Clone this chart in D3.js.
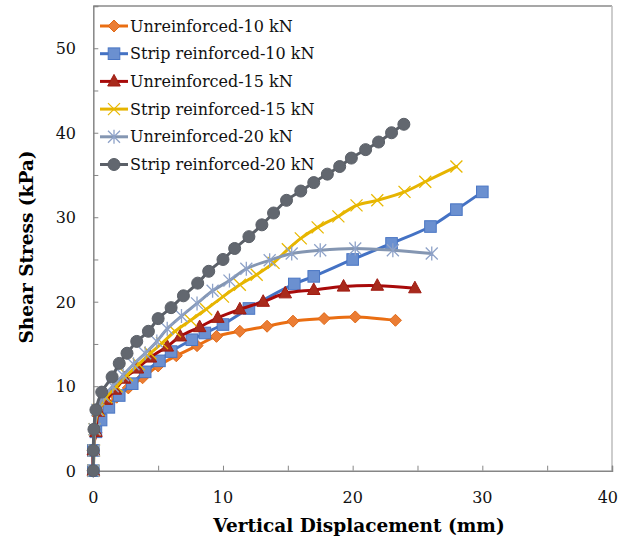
<!DOCTYPE html>
<html>
<head>
<meta charset="utf-8">
<script src="https://cdn.jsdelivr.net/npm/d3@7"></script>
<style>
  html, body { margin: 0; padding: 0; background: #fff; }
  svg { display: block; }
  text { font-family: "DejaVu Serif", "Liberation Serif", serif; }
</style>
</head>
<body>
<svg id="chart" width="619" height="541"></svg>
<script>
// Shear stress (kPa) vs. vertical displacement (mm)
const unr10X = [0, 0, 0.2, 0.5, 1.1, 1.8, 2.7, 3.8, 5.0, 6.4, 8.0, 9.5, 11.3, 13.4, 15.4, 17.8, 20.2, 23.3];
const unr10Y = [0, 2.4, 4.5, 6.5, 7.8, 8.7, 9.8, 11.0, 12.4, 13.6, 14.8, 15.9, 16.5, 17.1, 17.7, 18.0, 18.2, 17.8];

const strip10X = [0, 0, 0.2, 0.6, 1.2, 2.0, 3.0, 4.0, 5.1, 6.0, 7.6, 8.6, 10.0, 12.0, 15.5, 17.0, 20.0, 23.0, 26.0, 28.0, 30.0];
const strip10Y = [0, 2.4, 4.6, 6.0, 7.5, 8.9, 10.3, 11.7, 13.0, 14.1, 15.5, 16.3, 17.3, 19.2, 22.1, 23.0, 25.0, 26.9, 28.9, 30.9, 33.0];

const unr15X = [0, 0, 0.2, 0.4, 1.0, 1.7, 2.4, 3.4, 4.4, 5.7, 6.7, 8.2, 9.6, 11.3, 13.1, 14.8, 17.0, 19.3, 21.9, 24.8];
const unr15Y = [0, 2.4, 4.6, 7.0, 8.4, 9.6, 10.9, 12.1, 13.4, 14.7, 15.9, 17.0, 18.1, 19.1, 20.0, 21.0, 21.4, 21.8, 21.9, 21.6];

const strip15X = [0, 0.05, 0.1, 0.4, 1.0, 1.8, 2.6, 3.5, 4.4, 5.3, 6.3, 7.5, 8.7, 10.0, 11.3, 12.6, 13.9, 15.0, 16.0, 17.3, 18.9, 20.3, 21.9, 24.0, 25.6, 28.0];
const strip15Y = [0, 2.4, 4.9, 7.2, 8.7, 10.0, 11.3, 12.6, 13.9, 15.1, 16.5, 17.8, 19.1, 20.6, 22.0, 23.2, 24.6, 26.2, 27.5, 28.8, 30.1, 31.4, 32.0, 33.0, 34.2, 36.0];

const unr20X = [0, 0.05, 0.1, 0.3, 0.8, 1.5, 2.3, 3.1, 4.0, 4.9, 5.7, 6.8, 8.0, 9.2, 10.5, 11.8, 13.6, 15.3, 17.5, 20.2, 23.1, 26.1];
const unr20Y = [0, 2.4, 4.9, 7.2, 8.8, 10.0, 11.3, 12.6, 13.9, 15.3, 16.8, 18.3, 19.8, 21.3, 22.5, 23.9, 24.9, 25.7, 26.1, 26.3, 26.1, 25.7];

const strip20X = [0, 0, 0.05, 0.2, 0.65, 1.45, 2.0, 2.6, 3.35, 4.25, 5.0, 6.0, 6.95, 8.05, 8.9, 10.0, 10.9, 12.0, 13.0, 13.9, 14.9, 16.0, 17.0, 18.05, 19.0, 19.9, 21.0, 22.0, 23.0, 23.95];
const strip20Y = [0, 2.4, 4.9, 7.2, 9.3, 11.1, 12.7, 13.9, 15.3, 16.5, 18.0, 19.3, 20.7, 22.2, 23.6, 25.0, 26.3, 27.7, 29.1, 30.5, 32.0, 33.1, 34.1, 35.1, 36.0, 37.0, 38.0, 38.9, 40.0, 41.0];

const seriesNames = [
  "Unreinforced-10 kN", "Strip reinforced-10 kN", "Unreinforced-15 kN",
  "Strip reinforced-15 kN", "Unreinforced-20 kN", "Strip reinforced-20 kN"
];
const seriesX = [unr10X, strip10X, unr15X, strip15X, unr20X, strip20X];
const seriesY = [unr10Y, strip10Y, unr15Y, strip15Y, unr20Y, strip20Y];

const xTicks = [0, 10, 20, 30, 40];
const yTicks = [0, 10, 20, 30, 40, 50];

// Per-series look: line colour, marker shape, marker fill/stroke
const styles = [
  { line: "#EA6E12", shape: "diamond",  fill: "#EB7D34", stroke: "#E06A18" },
  { line: "#4472C4", shape: "square",   fill: "#6B90D0", stroke: "#4A76C4" },
  { line: "#A80A0A", shape: "triangle", fill: "#A82A1C", stroke: "#A01A10" },
  { line: "#E6B400", shape: "x",        fill: "none",    stroke: "#E8B800" },
  { line: "#8496B2", shape: "asterisk", fill: "none",    stroke: "#8EA2C8" },
  { line: "#5B6068", shape: "circle",   fill: "#62676F", stroke: "#5B6068" }
];

const svg = d3.select("#chart");
const margin = { left: 93.3, right: 612, top: 6, bottom: 470.7 };

const x = d3.scaleLinear().domain([0, 40]).range([margin.left, margin.right]);
const y = d3.scaleLinear().domain([0, 55]).range([margin.bottom, margin.top]);

// Frame: top and right edges
svg.append("line").attr("x1", x(0)).attr("x2", x(40)).attr("y1", y(55)).attr("y2", y(55))
  .attr("stroke", "#8a8a8a").attr("stroke-width", 1.5);
svg.append("line").attr("x1", x(40)).attr("x2", x(40)).attr("y1", y(55)).attr("y2", y(0))
  .attr("stroke", "#bdbdbd").attr("stroke-width", 1.5);

// Axes with inward ticks every 5 units, labels every 10
const axisColor = "#868686";
const xAxis = svg.append("g").attr("transform", `translate(0,${y(0)})`)
  .call(d3.axisTop(x).tickValues(d3.range(0, 41, 5)).tickSize(5).tickFormat(""));
const yAxis = svg.append("g").attr("transform", `translate(${x(0)},0)`)
  .call(d3.axisRight(y).tickValues(d3.range(0, 56, 5)).tickSize(5).tickFormat(""));
[xAxis, yAxis].forEach(g => {
  g.select(".domain").attr("stroke", axisColor).attr("stroke-width", 1.5);
  g.selectAll(".tick line").attr("stroke", axisColor).attr("stroke-width", 1);
});

// Last x label sits against the right edge, so it is end-anchored there
svg.append("g").selectAll("text").data(xTicks).join("text")
  .attr("x", d => d === 40 ? 618 : x(d)).attr("y", 503)
  .attr("text-anchor", d => d === 40 ? "end" : "middle")
  .attr("font-size", 16).attr("fill", "#111")
  .text(d => d);
svg.append("g").selectAll("text").data(yTicks).join("text")
  .attr("x", 76).attr("y", d => y(d) + 6)
  .attr("text-anchor", "end").attr("font-size", 16).attr("fill", "#111")
  .text(d => d);

// Axis titles
svg.append("text").attr("x", 359).attr("y", 532)
  .attr("text-anchor", "middle").attr("font-size", 18.5).attr("font-weight", "bold")
  .text("Vertical Displacement (mm)");
svg.append("text").attr("transform", "translate(33,247) rotate(-90)")
  .attr("text-anchor", "middle").attr("font-size", 18.5).attr("font-weight", "bold")
  .text("Shear Stress (kPa)");

// Marker drawing
function drawMarker(g, shape, st) {
  if (shape === "diamond") {
    g.append("path").attr("d", "M0,-6L6,0L0,6L-6,0Z")
      .attr("fill", st.fill).attr("stroke", st.stroke).attr("stroke-width", 1);
  } else if (shape === "square") {
    g.append("rect").attr("x", -5.8).attr("y", -5.8).attr("width", 11.6).attr("height", 11.6)
      .attr("fill", st.fill).attr("stroke", st.stroke).attr("stroke-width", 1);
  } else if (shape === "triangle") {
    g.append("path").attr("d", "M0,-7L6.3,4.6L-6.3,4.6Z")
      .attr("fill", st.fill).attr("stroke", st.stroke).attr("stroke-width", 1);
  } else if (shape === "x") {
    g.append("path").attr("d", "M-6,-6L6,6M-6,6L6,-6")
      .attr("fill", "none").attr("stroke", st.stroke).attr("stroke-width", 1.3);
  } else if (shape === "asterisk") {
    g.append("path").attr("d", "M-6,-6L6,6M-6,6L6,-6M0,-7L0,7")
      .attr("fill", "none").attr("stroke", st.stroke).attr("stroke-width", 1.3);
  } else if (shape === "circle") {
    g.append("circle").attr("r", 6)
      .attr("fill", st.fill).attr("stroke", st.stroke).attr("stroke-width", 1);
  }
}

const line = d3.line().curve(d3.curveCatmullRom.alpha(0.5))
  .x(d => x(d[0])).y(d => y(d[1]));

const plot = svg.append("g");
seriesX.forEach((xs, i) => {
  const st = styles[i];
  const pts = xs.map((v, k) => [v, seriesY[i][k]]);
  const g = plot.append("g");
  g.append("path").datum(pts).attr("d", line)
    .attr("fill", "none").attr("stroke", st.line).attr("stroke-width", 3)
    .attr("stroke-linejoin", "round").attr("stroke-linecap", "round");
  g.selectAll("g.m").data(pts).join("g").attr("class", "m")
    .attr("transform", d => `translate(${x(d[0])},${y(d[1])})`)
    .each(function () { drawMarker(d3.select(this), st.shape, st); });
});

// Legend
const legend = svg.append("g");
seriesNames.forEach((name, i) => {
  const st = styles[i];
  const ly = 26 + i * 27.7;
  legend.append("line").attr("x1", 100).attr("x2", 128).attr("y1", ly).attr("y2", ly)
    .attr("stroke", st.line).attr("stroke-width", 3);
  drawMarker(legend.append("g").attr("transform", `translate(114,${ly})`), st.shape, st);
  legend.append("text").attr("x", 130).attr("y", ly + 5.5)
    .attr("font-size", 16).attr("fill", "#111").text(name);
});
</script>
</body>
</html>
